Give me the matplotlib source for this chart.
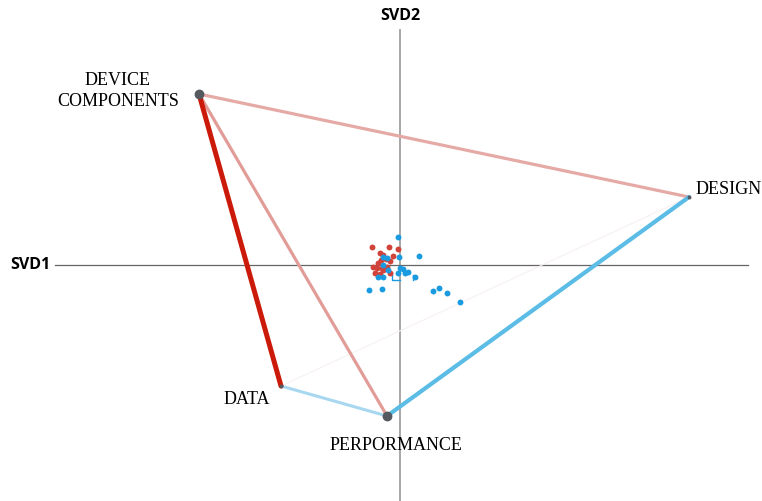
import matplotlib
matplotlib.use("Agg")
import matplotlib.pyplot as plt

# Anchor variables (SVD1, SVD2)
anchor_names = ["DEVICE\nCOMPONENTS", "DESIGN", "DATA", "PERPORMANCE"]
anchor_x = [-2.01, 2.89, -1.19, -0.13]
anchor_y = [1.71, 0.68, -1.21, -1.51]

# Edges between anchors: (i, j)
edges = [(0, 2), (0, 1), (0, 3), (1, 3), (2, 3), (2, 1)]
edge_colors = ["#cc1a0a", "#e6aaa6", "#e29c98", "#5bbce6", "#a8d8f0", "#f7f1f1"]
edge_widths = [3.6, 2.3, 2.3, 3.0, 2.2, 0.8]

# Cluster points
red_x = [-0.28, -0.11, -0.02, -0.20, -0.17, -0.07, -0.19, -0.14, -0.10, -0.22,
         -0.27, -0.23, -0.18, -0.13, -0.17, -0.25, -0.20, -0.10]
red_y = [0.18, 0.18, 0.16, 0.12, 0.10, 0.09, 0.05, 0.06, 0.04, 0.02,
         -0.02, -0.03, -0.03, -0.02, -0.05, -0.08, -0.09, -0.08]
blue_x = [-0.02, 0.19, -0.17, -0.13, -0.01, -0.17, -0.12, 0.00, 0.03, -0.02,
          0.05, 0.08, 0.15, -0.22, -0.17, -0.31, -0.18, 0.33, 0.39, 0.47, 0.60]
blue_y = [0.28, 0.09, 0.08, 0.07, 0.08, 0.00, -0.05, -0.03, -0.04, -0.08,
          -0.08, -0.07, -0.12, -0.12, -0.12, -0.25, -0.24, -0.26, -0.23, -0.28, -0.37]

fig = plt.figure(figsize=(7.62, 5.01), dpi=100)
ax = fig.add_axes([0, 0, 1, 1])
ax.set_xlim(-4.0, 3.62)
ax.set_ylim(-2.36, 2.65)
ax.axis("off")

# Axes lines
ax.plot([0, 0], [-2.36, 2.35], color="#a0a0a0", lw=1.3, zorder=1)
ax.plot([-3.45, 3.48], [0, 0], color="#666666", lw=0.9, zorder=1)
ax.text(-3.70, 0, "SVD1", ha="center", va="center", fontsize=11.5,
        fontweight="bold", family="Open Sans")
ax.text(0, 2.49, "SVD2", ha="center", va="center", fontsize=11.5,
        fontweight="bold", family="Open Sans")

# Edges
order = [5, 4, 1, 2, 3, 0]
for k in order:
    i, j = edges[k]
    ax.plot([anchor_x[i], anchor_x[j]], [anchor_y[i], anchor_y[j]],
            color=edge_colors[k], lw=edge_widths[k], solid_capstyle="round", zorder=2)

# small connector marks in cluster
ax.plot([-0.08, -0.08, 0.0], [-0.08, -0.15, -0.15], color="#1a9ae0", lw=1.0, zorder=3)
ax.plot([0.13, 0.13], [-0.10, -0.15], color="#1a9ae0", lw=1.0, zorder=3)

# Cluster points
ax.scatter(red_x, red_y, s=18, color="#d0423a", zorder=4, linewidths=0)
ax.scatter(blue_x, blue_y, s=18, color="#1a9be0", zorder=5, linewidths=0)

# Anchor dots
ax.scatter([anchor_x[0], anchor_x[3]], [anchor_y[0], anchor_y[3]], s=50,
           color="#555a60", zorder=6, linewidths=0)
ax.scatter([anchor_x[1], anchor_x[2]], [anchor_y[1], anchor_y[2]], s=8,
           color="#555a60", zorder=6, linewidths=0)

# Labels
serif = "Liberation Serif"
ax.text(-2.82, 1.74, anchor_names[0], ha="center", va="center", fontsize=13,
        family=serif, linespacing=1.25)
ax.text(2.96, 0.76, anchor_names[1], ha="left", va="center", fontsize=13, family=serif)
ax.text(-1.53, -1.35, anchor_names[2], ha="center", va="center", fontsize=13, family=serif)
ax.text(-0.04, -1.81, anchor_names[3], ha="center", va="center", fontsize=13, family=serif)

fig.savefig("out.png", dpi=100)
